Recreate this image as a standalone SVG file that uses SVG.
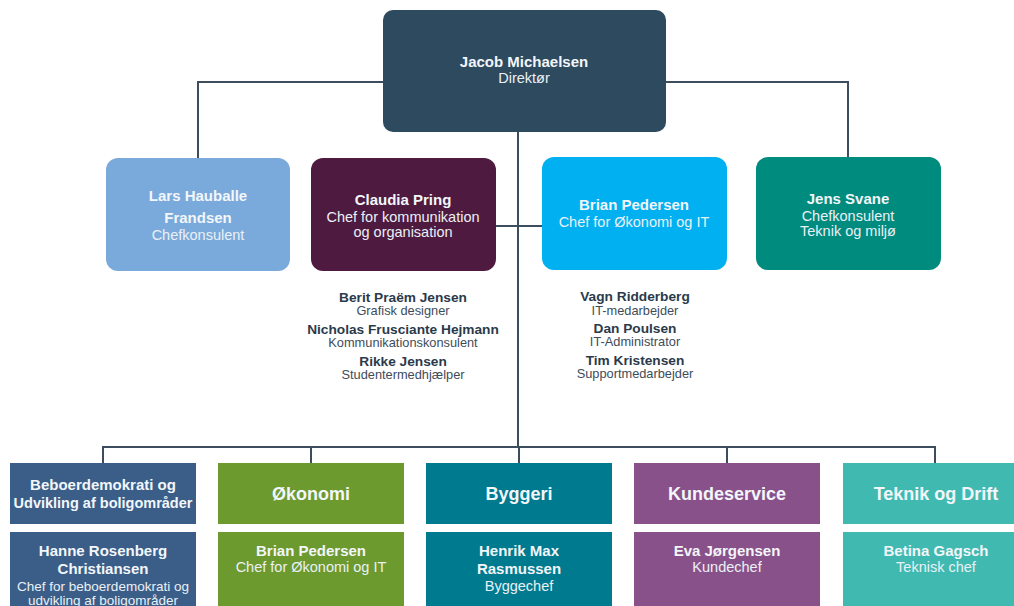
<svg xmlns="http://www.w3.org/2000/svg" width="1014" height="606" viewBox="0 0 1014 606">
<style>
text{font-family:"Liberation Sans",Arial,sans-serif;text-anchor:middle}
.b{font-weight:bold;font-size:15px;fill:#f3f6fa}
.r{font-size:14.5px;fill:#eaf0f6}
.s{font-size:13.5px}
.h{font-weight:bold;font-size:18px;fill:#f3f6fa}
.sb{font-weight:bold;font-size:13.7px;fill:#2b3a4a}
.sr{font-size:12.8px;fill:#3e4c5a}
.ln{stroke:#3c4e5e;stroke-width:2;fill:none}
</style>
<rect width="1014" height="606" fill="#ffffff"/>
<g id="connectors">
<path class="ln" d="M383 82 H198 V158 M666 82 H848 V157 M518 132 V447 M496 226 H542 M103 463 V447 H935 V463 M311 447 V463 M519 447 V463 M727 447 V463"/>
</g>
<g id="n-jacob">
<rect x="383" y="10" width="283" height="122" rx="10" fill="#2d4a5e"/>
<text class="b" x="524" y="67">Jacob Michaelsen</text>
<text class="r" x="524" y="83">Direktør</text>
</g>
<g id="n-lars">
<rect x="106" y="158" width="184" height="113" rx="12" fill="#7aaadb"/>
<text class="b" x="198" y="201">Lars Hauballe</text>
<text class="b" x="198" y="223">Frandsen</text>
<text class="r" x="198" y="240">Chefkonsulent</text>
</g>
<g id="n-claudia">
<rect x="311" y="158" width="185" height="113" rx="12" fill="#4e1a3f"/>
<text class="b" x="403" y="205">Claudia Pring</text>
<text class="r" x="403" y="222">Chef for kommunikation</text>
<text class="r" x="403" y="237">og organisation</text>
</g>
<g id="n-brian">
<rect x="542" y="157" width="185" height="113" rx="12" fill="#00b0f0"/>
<text class="b" x="634" y="210">Brian Pedersen</text>
<text class="r" x="634" y="227">Chef for Økonomi og IT</text>
</g>
<g id="n-jens">
<rect x="756" y="157" width="185" height="113" rx="12" fill="#008b7f"/>
<text class="b" x="848" y="204">Jens Svane</text>
<text class="r" x="848" y="221">Chefkonsulent</text>
<text class="r" x="848" y="236">Teknik og miljø</text>
</g>
<g id="staff-claudia">
<text class="sb" x="403" y="302">Berit Praëm Jensen</text>
<text class="sr" x="403" y="315">Grafisk designer</text>
<text class="sb" x="403" y="334">Nicholas Frusciante Hejmann</text>
<text class="sr" x="403" y="347">Kommunikationskonsulent</text>
<text class="sb" x="403" y="366">Rikke Jensen</text>
<text class="sr" x="403" y="379">Studentermedhjælper</text>
</g>
<g id="staff-brian">
<text class="sb" x="635" y="301">Vagn Ridderberg</text>
<text class="sr" x="635" y="315">IT-medarbejder</text>
<text class="sb" x="635" y="333">Dan Poulsen</text>
<text class="sr" x="635" y="346">IT-Administrator</text>
<text class="sb" x="635" y="365">Tim Kristensen</text>
<text class="sr" x="635" y="378">Supportmedarbejder</text>
</g>
<g id="d-beboer">
<rect x="10" y="463" width="186" height="61" fill="#3a5e88"/>
<text class="b" x="103" y="490">Beboerdemokrati og</text>
<text class="b" x="103" y="508" style="font-size:14.5px">Udvikling af boligområder</text>
<rect x="10" y="532" width="186" height="80" fill="#3a5e88"/>
<text class="b" x="103" y="556">Hanne Rosenberg</text>
<text class="b" x="103" y="574">Christiansen</text>
<text class="r s" x="103" y="591">Chef for beboerdemokrati og</text>
<text class="r s" x="103" y="605">udvikling af boligområder</text>
</g>
<g id="d-okonomi">
<rect x="218" y="463" width="186" height="61" fill="#6c9a2f"/>
<text class="h" x="311" y="500">Økonomi</text>
<rect x="218" y="532" width="186" height="80" fill="#6c9a2f"/>
<text class="b" x="311" y="556">Brian Pedersen</text>
<text class="r" x="311" y="572">Chef for Økonomi og IT</text>
</g>
<g id="d-byggeri">
<rect x="426" y="463" width="186" height="61" fill="#007a8e"/>
<text class="h" x="519" y="500">Byggeri</text>
<rect x="426" y="532" width="186" height="80" fill="#007a8e"/>
<text class="b" x="519" y="556">Henrik Max</text>
<text class="b" x="519" y="574">Rasmussen</text>
<text class="r" x="519" y="591">Byggechef</text>
</g>
<g id="d-kunde">
<rect x="634" y="463" width="186" height="61" fill="#895189"/>
<text class="h" x="727" y="500">Kundeservice</text>
<rect x="634" y="532" width="186" height="80" fill="#895189"/>
<text class="b" x="727" y="556">Eva Jørgensen</text>
<text class="r" x="727" y="572">Kundechef</text>
</g>
<g id="d-teknik">
<rect x="843" y="463" width="186" height="61" fill="#40bab1"/>
<text class="h" x="936" y="500">Teknik og Drift</text>
<rect x="843" y="532" width="186" height="80" fill="#40bab1"/>
<text class="b" x="936" y="556">Betina Gagsch</text>
<text class="r" x="936" y="572">Teknisk chef</text>
</g>
</svg>
